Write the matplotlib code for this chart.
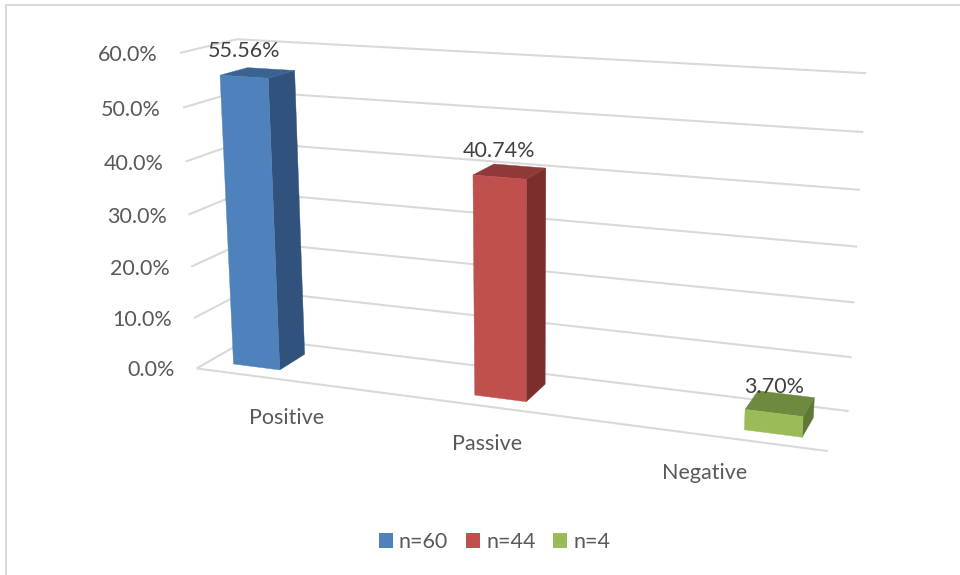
import numpy as np
import matplotlib
matplotlib.use("Agg")
import matplotlib.pyplot as plt
from matplotlib.patches import Patch

# Data
categorias = ["Positive", "Passive", "Negative"]
valores = [55.56, 40.74, 3.70]
etiquetas = ["55.56%", "40.74%", "3.70%"]
series = ["n=60", "n=44", "n=4"]
ticks = [0, 10, 20, 30, 40, 50, 60]

# Colours per bar: front, side, top
frente = ["#4F81BD", "#C0504D", "#9BBB59"]
lado = ["#30527C", "#7B2E2C", "#5F7838"]
tapa = ["#3A6394", "#8F3A38", "#6E8A3E"]
GRID = "#D9D9D9"

# Layout of the bars inside the unit box
centros = [0.085, 0.5, 0.915]
ancho = 0.083
z0, z1 = 0.235, 0.73
# Category captions sit free under the floor
pos_cat = [(287, 418), (487, 444), (705, 473)]

# Perspective camera: unit box (x, y, z) -> canvas pixels
caja = [(0, 0, 0), (1, 0, 0), (0, 0, 1), (1, 0, 1), (0, 1, 0), (0, 1, 1), (1, 1, 1), (1, .5, 1), (0, .5, 0)]
pixeles = [(197, 369), (828, 451), (250, 338), (847, 411), (180, 54), (237, 39), (865, 73), (860, 247), (188, 213)]


def camara(caja, pixeles):
    filas = []
    for (x, y, z), (u, v) in zip(caja, pixeles):
        filas.append([x, y, z, 1, 0, 0, 0, 0, -u*x, -u*y, -u*z, -u])
        filas.append([0, 0, 0, 0, x, y, z, 1, -v*x, -v*y, -v*z, -v])
    return np.linalg.svd(np.array(filas, dtype=float))[2][-1].reshape(3, 4)


P = camara(caja, pixeles)


def proy(x, y, z):
    r = P @ np.array([x, y, z, 1.0])
    return r[:2] / r[2]


def cara(ax, puntos, color, zorder=3):
    xy = np.array([proy(*p) for p in puntos])
    ax.fill(xy[:, 0], xy[:, 1], color=color, lw=0.3, zorder=zorder)


def linea(ax, a, b):
    xy = np.array([proy(*a), proy(*b)])
    ax.plot(xy[:, 0], xy[:, 1], color=GRID, lw=1.5, solid_capstyle="butt", zorder=1)


plt.rcParams['font.family'] = ['Lato', 'DejaVu Sans']
fig = plt.figure(figsize=(9.6, 5.75), dpi=100)
ax = fig.add_axes([0, 0, 1, 1])
ax.set_xlim(0, 960)
ax.set_ylim(575, 0)
ax.axis("off")

# Outer frame of the chart area
ax.plot([6, 6, 960], [575, 5, 5], color=GRID, lw=1.5, zorder=1)

# Walls and floor
ymax = max(ticks)
for t in ticks:
    y = t / ymax
    linea(ax, (0, y, 0), (0, y, 1))
    linea(ax, (0, y, 1), (1, y, 1))
    u, v = proy(0, y, 0)
    ax.text(u - 22, v + 2, "%.1f%%" % t, ha="right", va="center", fontsize=15.5, color="#595959")
linea(ax, (0, 0, 0), (1, 0, 0))

# Bars
for i, v in enumerate(valores):
    y = v / ymax
    x0, x1 = centros[i] - ancho/2, centros[i] + ancho/2
    cara(ax, [(x1, 0, z0), (x1, 0, z1), (x1, y, z1), (x1, y, z0)], lado[i])
    cara(ax, [(x0, y, z0), (x1, y, z0), (x1, y, z1), (x0, y, z1)], tapa[i])
    cara(ax, [(x0, 0, z0), (x1, 0, z0), (x1, y, z0), (x0, y, z0)], frente[i])
    u, w = proy(centros[i], y, z0)
    ax.text(u, w - 26, etiquetas[i], ha="center", va="center", fontsize=15.5, color="#404040", zorder=4)

for nombre, (u, w) in zip(categorias, pos_cat):
    ax.text(u, w, nombre, ha="center", va="center", fontsize=15.5, color="#595959")

handles = [Patch(facecolor=c, edgecolor="none", label=s) for c, s in zip(frente, series)]
ax.legend(handles=handles, loc="center", bbox_to_anchor=(494.5/960, 1 - 542/575), ncol=3, frameon=False,
          fontsize=15.5, labelcolor="#595959", handlelength=0.65, handleheight=0.65,
          handletextpad=0.3, columnspacing=0.81, borderpad=0, borderaxespad=0)

fig.savefig("out.png", dpi=100)
